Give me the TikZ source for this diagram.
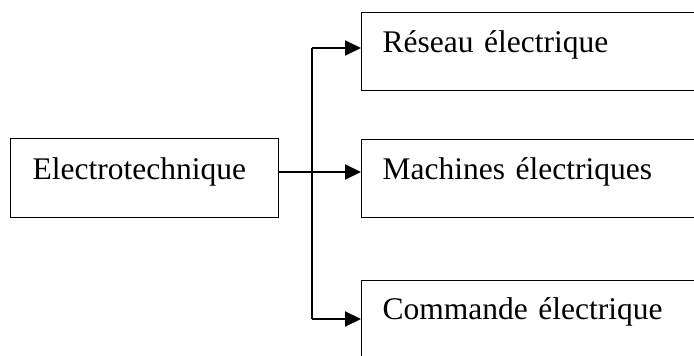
\documentclass[tikz,border=0pt]{standalone}
\usepackage{fontspec}
\setmainfont{Liberation Serif}
\usetikzlibrary{arrows.meta}
\begin{document}
\begin{tikzpicture}[x=1pt,y=-1pt,
  box/.style={draw,line width=1.2pt,rectangle,anchor=north west,inner ysep=0pt,
    align=left,font=\fontsize{31.5}{36}\selectfont},
  leftbox/.style={box,inner xsep=22pt,text width=224pt,text height=41pt,text depth=38pt},
  rightbox/.style={box,inner xsep=21pt,text width=317pt,text height=40pt,text depth=38pt},
  feed/.style={line width=1.2pt},
  branch/.style={line width=2pt},
  arrowbranch/.style={branch,-{Triangle[length=16pt,width=15pt]}}]
\useasboundingbox[clip] (0,0) rectangle (694,356);
\fill[white] (0,0) rectangle (694,356);

\node[leftbox]  (src) at (10,138)  {Electrotechnique};
\node[rightbox] (res) at (361,12)  {Réseau électrique};
\node[rightbox] (mac) at (361,139) {Machines électriques};
\node[rightbox, text height=39pt, text depth=40pt] (cmd) at (361,280) {Commande électrique};

% junction points on the vertical distribution bar
\coordinate (jtop) at (312,48);
\coordinate (jmid) at (312,172);
\coordinate (jbot) at (312,319);

\draw[feed] (src.east |- jmid) -- (jmid);
\draw[branch] (jtop) -- (jbot);
\draw[arrowbranch] (jtop) -- (res.west |- jtop);
\draw[arrowbranch] (jmid) -- (mac.west |- jmid);
\draw[arrowbranch] (jbot) -- (cmd.west |- jbot);
\end{tikzpicture}
\end{document}
